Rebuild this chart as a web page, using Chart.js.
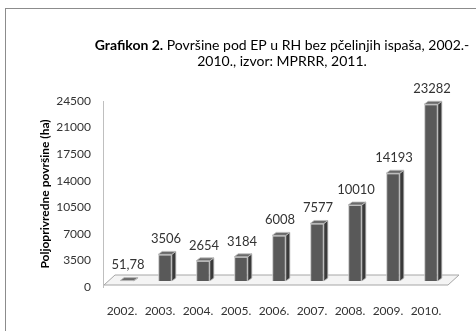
<!DOCTYPE html>
<html>
<head>
<meta charset="utf-8">
<script src="https://cdn.jsdelivr.net/npm/chart.js@4"></script>
<style>
  html, body { margin: 0; padding: 0; background: #fff; }
  #wrap { width: 476px; height: 331px; }
</style>
</head>
<body>
<div id="wrap"><canvas id="grafikon"></canvas></div>
<script>
const godine = ["2002.", "2003.", "2004.", "2005.", "2006.", "2007.", "2008.", "2009.", "2010."];
const povrsine = [51.78, 3506, 2654, 3184, 6008, 7577, 10010, 14193, 23282];
const yTicks = [0, 3500, 7000, 10500, 14000, 17500, 21000, 24500];

const FONT = "Lato, 'Open Sans', sans-serif";
const DEPTH = { x: 4, y: 3 };     // bar side/top depth
const SHIFT = { x: 5, y: -6 };    // bars sit in the middle of the floor
const FLOOR = { x: 11, y: 10 };

function fmt(v) {
  return v % 1 ? v.toFixed(2).replace(".", ",") : String(v);
}

// frame + floor + 3D bars + values
const bars3d = {
  id: "bars3d",
  beforeDraw(chart) {
    const c = chart.ctx;
    c.save();
    c.fillStyle = "#fff";
    c.fillRect(0, 0, chart.width, chart.height);
    c.strokeStyle = "#8c8c8c";
    c.lineWidth = 1;
    c.strokeRect(5.5, 8.5, 500, 360);

    // title, first part bold
    c.fillStyle = "#000";
    c.textBaseline = "middle";
    const bold = "bold 14px " + FONT, reg = "14px " + FONT;
    const p1 = "Grafikon 2.", p2 = " Površine pod EP u RH bez pčelinjih ispaša, 2002.-";
    c.font = bold; const w1 = c.measureText(p1).width;
    c.font = reg; const w2 = c.measureText(p2).width;
    let x0 = 282 - (w1 + w2) / 2;
    c.textAlign = "left";
    c.font = bold; c.fillText(p1, x0, 45);
    c.font = reg; c.fillText(p2, x0 + w1, 45);
    c.textAlign = "center";
    c.fillText("2010., izvor: MPRRR, 2011.", 282, 61);
    c.restore();
  },
  beforeDatasetsDraw(chart) {
    const c = chart.ctx, a = chart.chartArea;
    const fy = a.bottom - 2, fl = a.left + 1, fr = a.right + 3;
    c.save();
    c.beginPath();
    c.moveTo(fl, fy);
    c.lineTo(fr, fy);
    c.lineTo(fr + FLOOR.x, fy - FLOOR.y);
    c.lineTo(fl + FLOOR.x, fy - FLOOR.y);
    c.closePath();
    c.fillStyle = "#f4f4f4";
    c.fill();
    c.strokeStyle = "#a6a6a6";
    c.lineWidth = 1;
    c.stroke();
    c.restore();
    c.save();
    c.translate(SHIFT.x, SHIFT.y);
  },
  afterDatasetsDraw(chart) {
    const c = chart.ctx;
    const meta = chart.getDatasetMeta(0);
    meta.data.forEach((bar, i) => {
      const { x, y, base, width } = bar.getProps(["x", "y", "base", "width"], true);
      const l = x - width / 2, r = x + width / 2;
      // side
      c.beginPath();
      c.moveTo(r, y);
      c.lineTo(r + DEPTH.x, y - DEPTH.y);
      c.lineTo(r + DEPTH.x, base - DEPTH.y);
      c.lineTo(r, base);
      c.closePath();
      c.fillStyle = "#3a3a3a";
      c.fill();
      c.strokeStyle = "#bdbdbd";
      c.lineWidth = 0.8;
      c.stroke();
      // top
      c.beginPath();
      c.moveTo(l, y);
      c.lineTo(r, y);
      c.lineTo(r + DEPTH.x, y - DEPTH.y);
      c.lineTo(l + DEPTH.x, y - DEPTH.y);
      c.closePath();
      c.fillStyle = "#6a6a6a";
      c.fill();
      c.stroke();
      // value label
      c.fillStyle = "#333";
      c.font = "13px " + FONT;
      c.textAlign = "center";
      c.textBaseline = "bottom";
      c.fillText(fmt(povrsine[i]), x + 1, y - DEPTH.y - 6);
    });
    c.restore();
  }
};

new Chart(document.getElementById("grafikon"), {
  type: "bar",
  data: {
    labels: godine,
    datasets: [{
      data: povrsine,
      backgroundColor: "#595959",
      borderColor: "#c4c4c4",
      borderWidth: 1,
      barPercentage: 0.36,
      categoryPercentage: 1,
    }],
  },
  options: {
    responsive: true,
    maintainAspectRatio: false,
    animation: false,
    layout: { padding: { top: 101, right: 31, left: 0, bottom: 0 } },
    plugins: {
      legend: { display: false },
      tooltip: { enabled: false },
    },
    scales: {
      x: {
        grid: { display: false, drawTicks: false },
        border: { display: false },
        ticks: { color: "#333", font: { family: FONT, size: 12 }, padding: 17, maxRotation: 0 },
        afterFit(s) { s.height = 44; },
      },
      y: {
        min: 0,
        max: 24500,
        afterBuildTicks(s) { s.ticks = yTicks.map(v => ({ value: v })); },
        grid: { display: false, drawTicks: false },
        border: { display: true, color: "#bfbfbf" },
        ticks: {
          color: "#333",
          font: { family: FONT, size: 12 },
          padding: 12,
          callback: v => String(v),
        },
        title: {
          display: true,
          text: "Poljoprivredne površine (ha)",
          color: "#000",
          font: { family: FONT, size: 12, weight: "bold" },
          padding: { top: 38, bottom: 0 },
        },
        afterFit(s) { s.width = 103; },
      },
    },
  },
  plugins: [bars3d],
});
</script>
</body>
</html>
